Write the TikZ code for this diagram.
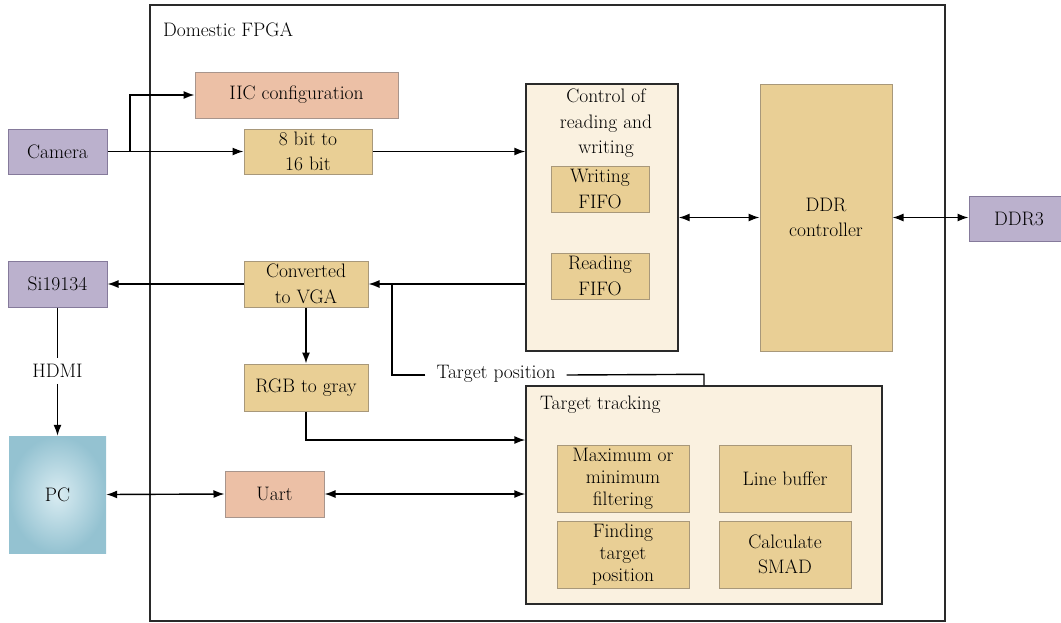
\documentclass[tikz,border=0pt]{standalone}
\usetikzlibrary{arrows.meta}
\definecolor{purf}{HTML}{BBB1CD}
\definecolor{purl}{HTML}{857A9B}
\definecolor{salf}{HTML}{ECC0A6}
\definecolor{sall}{HTML}{A8958C}
\definecolor{tanf}{HTML}{E9CF95}
\definecolor{tanl}{HTML}{A8987A}
\definecolor{crmf}{HTML}{FAF1E0}
\definecolor{dline}{HTML}{2A2A2A}
\definecolor{pcout}{HTML}{94C2D1}
\definecolor{pcin}{HTML}{D9ECF2}
\begin{document}
\begin{tikzpicture}[x=1pt,y=-1pt,
  every node/.style={font=\fontsize{19.5}{25.5}\selectfont, text=black, align=center, inner sep=0pt},
  tight/.style={font=\fontsize{19.5}{22}\selectfont},
  purple/.style={draw=purl, fill=purf, line width=1pt},
  salmon/.style={draw=sall, fill=salf, line width=1pt},
  tanbox/.style={draw=tanl, fill=tanf, line width=1pt},
  cream/.style={draw=dline, fill=crmf, line width=1.4pt},
  conn/.style={draw=black, line width=1.4pt},
  arr/.style={conn, -{Latex[length=11pt,width=8pt]}},
  darr/.style={conn, {Latex[length=11pt,width=8pt]}-{Latex[length=11pt,width=8pt]}}
]
\useasboundingbox (0,0) rectangle (1061,622);
% outer FPGA frame
\node[draw=dline, line width=1.4pt, minimum width=795pt, minimum height=616pt] (fpga) at (547.5,313) {};
\node[anchor=west] (fpgalbl) at (163,30) {Domestic FPGA};

% left external blocks
\node[purple, minimum width=99pt, minimum height=45pt] (cam) at (57.5,151.5) {Camera};
\node[purple, minimum width=99pt, minimum height=46pt] (si) at (57.5,284) {Si19134};
\node[draw=none, inner color=pcin, outer color=pcout, minimum width=97pt, minimum height=117pt] (pc) at (57.5,494.5) {PC};
\node[purple, minimum width=100pt, minimum height=45pt] (ddr3) at (1019,218.5) {DDR3};

% inner blocks
\node[salmon, minimum width=203pt, minimum height=46pt] (iic) at (296.5,95) {IIC configuration};
\node[tanbox, minimum width=128pt, minimum height=45pt] (b816) at (308,151.5) {8 bit to\\16 bit};
\node[tanbox, minimum width=124pt, minimum height=46pt] (vga) at (306,284) {Converted\\to VGA};
\node[tanbox, minimum width=124pt, minimum height=47pt] (rgb) at (306,387.5) {RGB to gray};
\node[salmon, minimum width=99pt, minimum height=46pt] (uart) at (274.5,494) {Uart};

% control of reading and writing
\node[cream, minimum width=152pt, minimum height=267pt] (ctrl) at (602,217.5) {};
\node[anchor=north] (ctrllbl) at (606,89) {Control of\\reading and\\writing};
\node[tanbox, minimum width=98pt, minimum height=46pt] (wfifo) at (600,189) {Writing\\FIFO};
\node[tanbox, minimum width=98pt, minimum height=46pt] (rfifo) at (600,276) {Reading\\FIFO};

% DDR controller
\node[tanbox, minimum width=132pt, minimum height=267pt] (ddr) at (826,217.5) {DDR\\controller};

% target tracking
\node[cream, minimum width=356pt, minimum height=218pt] (track) at (704,495) {};
\node[anchor=west] (tracklbl) at (540,405) {Target tracking};
\node[tanbox, tight, minimum width=132pt, minimum height=67pt] (mmf) at (623,478.5) {Maximum or\\minimum\\filtering};
\node[tanbox, minimum width=132pt, minimum height=67pt] (lbuf) at (785,478.5) {Line buffer};
\node[tanbox, tight, minimum width=132pt, minimum height=67pt] (find) at (623,554.5) {Finding\\target\\position};
\node[tanbox, minimum width=132pt, minimum height=67pt] (smad) at (785,554.5) {Calculate\\SMAD};

% labels on connectors
\node[inner xsep=11pt] (tpl) at (496,374) {Target position};
\node[inner ysep=6pt] (hdmi) at (57.5,371) {HDMI};

% connectors
\coordinate (jc) at (130,151.5);
\draw[arr] (cam.east) -- (b816.west);
\draw[arr] (jc) |- (iic.west);
\draw[arr] (b816.east) -- (b816.east -| ctrl.west);
\draw[darr] (ctrl.east) -- (ddr.west);
\draw[darr] (ddr.east) -- (ddr.east -| ddr3.west);
\draw[arr] (ctrl.west |- vga.east) -- (vga.east);
\draw[arr] (vga.west) -- (si.east);
\coordinate (jt) at (392,284);
\draw[conn] (track.north) -- ++(0,-11) -- (tpl.east |- 0,375);
\draw[conn] (tpl.west |- 0,375) -| (jt);
\draw[arr] (vga.south) -- (rgb.north);
\draw[arr] (rgb.south) |- ([yshift=55pt]track.west);
\draw[darr] (pc.east) -- (uart.west);
\draw[darr] (uart.east) -- (uart.east -| track.west);
\draw[conn] (si.south) -- (hdmi.north);
\draw[arr] (hdmi.south) -- (pc.north);
\end{tikzpicture}
\end{document}
